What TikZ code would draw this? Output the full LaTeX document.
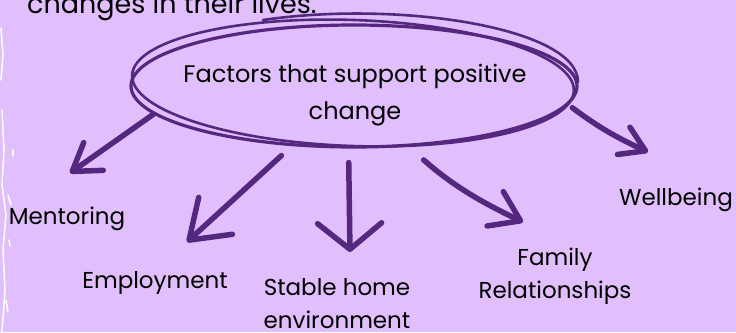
\documentclass[tikz,border=0pt]{standalone}
\usepackage{fontspec}
\setmainfont{Poppins}
\usepackage{tikz}
\usetikzlibrary{shapes.geometric, arrows.meta}

\definecolor{lavender}{HTML}{E0BFFC}
\definecolor{grape}{HTML}{55287F}

\tikzset{
    txt/.style={inner sep=0pt, align=center, font=\fontsize{23}{33}\selectfont},
    loopline/.style={draw=grape, line width=3.2pt, line cap=round},
    brush/.style={draw=grape, line width=5.5pt, line cap=round, line join=round},
    grunge/.style={draw=white, line width=1.5pt, line cap=round}
}

\begin{document}
\begin{tikzpicture}[x=1pt, y=-1pt]
    \useasboundingbox (0,0) rectangle (736,332);
    \clip (0,0) rectangle (736,332);
    \fill[lavender] (0,0) rectangle (736,332);

    % rough white edge on the left
    \draw[grunge] (1,28) -- (3,55) -- (1,80);
    \draw[grunge] (2,110) -- (4,150) -- (2,185) -- (6,215) -- (3,250) -- (5,290) -- (2,332);
    \draw[grunge] (8,195) -- (11,205);
    \draw[grunge] (13,150) -- (13,156);
    \draw[grunge] (9,240) -- (10,246);
    \draw[grunge] (6,300) -- (8,312);

    \node[txt, anchor=base west, font=\fontsize{27}{33}\selectfont] (intro) at (27,13) {changes in their lives.};

    % hand drawn loop
    \node[loopline, ellipse, minimum width=446pt, minimum height=122pt] (loop) at (354,86) {};
    \draw[loopline, line width=2.6pt] (353,83) ellipse [x radius=221, y radius=63, rotate=-2];
    \draw[loopline, line width=2.6pt] (263,20) .. controls (400,0) and (578,28) .. (578,82);
    \node[txt, font=\fontsize{24}{37}\selectfont] (factors) at (355,95) {Factors that support positive\\change};

    \node[txt, anchor=base] (mentoring) at (67,224) {Mentoring};
    \node[txt, anchor=base] (employment) at (155,288) {Employment};
    \node[txt] (home) at (337,304) {Stable home\\environment};
    \node[txt] (family) at (555,276) {Family\\Relationships};
    \node[txt, anchor=base] (wellbeing) at (676,205) {Wellbeing};

    \coordinate (mentorTip) at (70,173);
    \coordinate (employTip) at (187,242);
    \coordinate (homeTip) at (350,252);
    \coordinate (familyTip) at (523,222);
    \coordinate (wellTip) at (648,152);

    \draw[brush, -{Straight Barb[length=26pt, width=34pt, round]}] (loop.188) -- (mentorTip);
    \draw[brush, shorten <=14pt, -{Straight Barb[length=36pt, width=50pt, round]}] (loop.224) -- (employTip);
    \draw[brush, shorten <=14pt, -{Straight Barb[length=26pt, width=64pt, round]}] (loop.265) -- (homeTip);
    \draw[brush, shorten <=20pt, -{Straight Barb[length=28pt, width=38pt, round]}] (loop.312) to[bend right=8] (familyTip);
    \draw[brush, shorten <=5pt, -{Straight Barb[length=24pt, width=30pt, round]}] (loop.355) to[bend right=6] (wellTip);
\end{tikzpicture}
\end{document}
